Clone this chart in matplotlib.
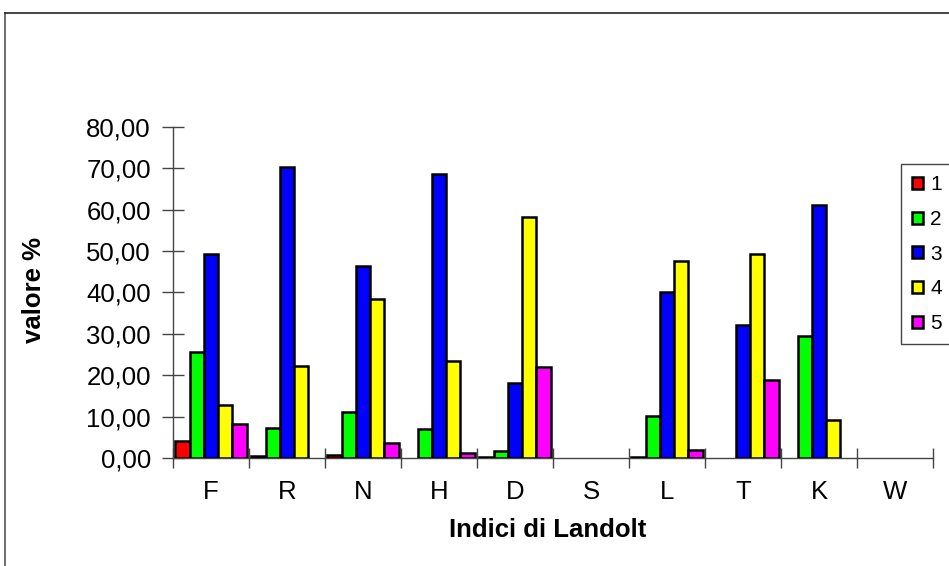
import numpy as np
import matplotlib
matplotlib.use("Agg")
import matplotlib.pyplot as plt
from matplotlib.patches import Patch
from matplotlib.lines import Line2D
from matplotlib.ticker import FixedLocator, FuncFormatter

plt.rcParams['font.family'] = ['Liberation Sans', 'DejaVu Sans']

categories = ["F", "R", "N", "H", "D", "S", "L", "T", "K", "W"]
series_names = ["1", "2", "3", "4", "5"]
s1 = [4.0, 0.4, 0.8, 0.0, 0.3, 0.0, 0.3, 0.0, 0.0, 0.0]
s2 = [25.7, 7.2, 11.1, 6.9, 1.6, 0.0, 10.1, 0.0, 29.6, 0.0]
s3 = [49.2, 70.3, 46.3, 68.7, 18.1, 0.0, 40.2, 32.1, 61.1, 0.0]
s4 = [12.9, 22.2, 38.4, 23.5, 58.2, 0.0, 47.7, 49.2, 9.3, 0.0]
s5 = [8.2, 0.0, 3.6, 1.1, 22.0, 0.0, 1.9, 18.8, 0.0, 0.0]
series = [s1, s2, s3, s4, s5]
colors = ["#FF0000", "#00FF00", "#0000FF", "#FFFF00", "#FF00FF"]
yticks = [0, 10, 20, 30, 40, 50, 60, 70, 80]

W, H = 949, 566
fig = plt.figure(figsize=(W / 100, H / 100), dpi=100)
ax = fig.add_axes([173 / W, 1 - 458 / H, (933 - 173) / W, (458 - 127) / H])

x = np.arange(len(categories))
bw = 0.188
for i, (vals, c) in enumerate(zip(series, colors)):
    v = np.array(vals, dtype=float)
    v = np.where(v > 0, v, np.nan)
    ax.bar(x + (i - 2) * bw, v, width=bw, color=c, edgecolor="black",
           linewidth=1.8, zorder=3)

ax.set_xlim(-0.5, len(categories) - 0.5)
ax.set_ylim(0, 80)
ax.set_yticks(yticks)
ax.yaxis.set_major_formatter(FuncFormatter(lambda v, p: f"{v:.2f}".replace(".", ",")))
ax.set_xticks(x)
ax.set_xticklabels(categories)
ax.tick_params(axis="x", which="major", length=0, pad=16, labelsize=18.5)
ax.xaxis.set_minor_locator(FixedLocator(np.arange(-0.5, len(categories), 1.0)))
ax.tick_params(axis="x", which="minor", direction="inout", length=14, width=1, color="#444")
ax.tick_params(axis="y", direction="inout", length=16, width=1, color="#444",
               labelsize=18.5, pad=8)
for s in ["top", "right"]:
    ax.spines[s].set_visible(False)
for s in ["left", "bottom"]:
    ax.spines[s].set_color("#444")
    ax.spines[s].set_linewidth(1)

ax.set_xlabel("Indici di Landolt", fontsize=18.5, fontweight="bold")
ax.xaxis.set_label_coords((548 - 173) / (933 - 173), -(518 - 458) / (458 - 127))
ax.set_ylabel("valore %", fontsize=18.5, fontweight="bold")
ax.yaxis.set_label_coords(-(173 - 46) / (933 - 173), (458 - 290) / (458 - 127))

handles = [Patch(facecolor=c, edgecolor="black", linewidth=1.8) for c in colors]
leg = fig.legend(handles, series_names, loc="upper left",
                 bbox_to_anchor=(901 / W, 1 - 164 / H), fontsize=15,
                 frameon=True, fancybox=False, framealpha=1, edgecolor="#444",
                 handlelength=0.5, handleheight=0.5, handletextpad=0.35,
                 labelspacing=0.75, borderpad=0.55, borderaxespad=0)
leg.get_frame().set_linewidth(1)

# outer chart border (cut off at right and bottom)
fig.add_artist(Line2D([5 / W, 5 / W], [0, 1 - 13 / H], color="#555", lw=1.2, transform=fig.transFigure))
fig.add_artist(Line2D([5 / W, 1], [1 - 13 / H, 1 - 13 / H], color="#222", lw=1.2, transform=fig.transFigure))

fig.savefig("out.png", dpi=100)
